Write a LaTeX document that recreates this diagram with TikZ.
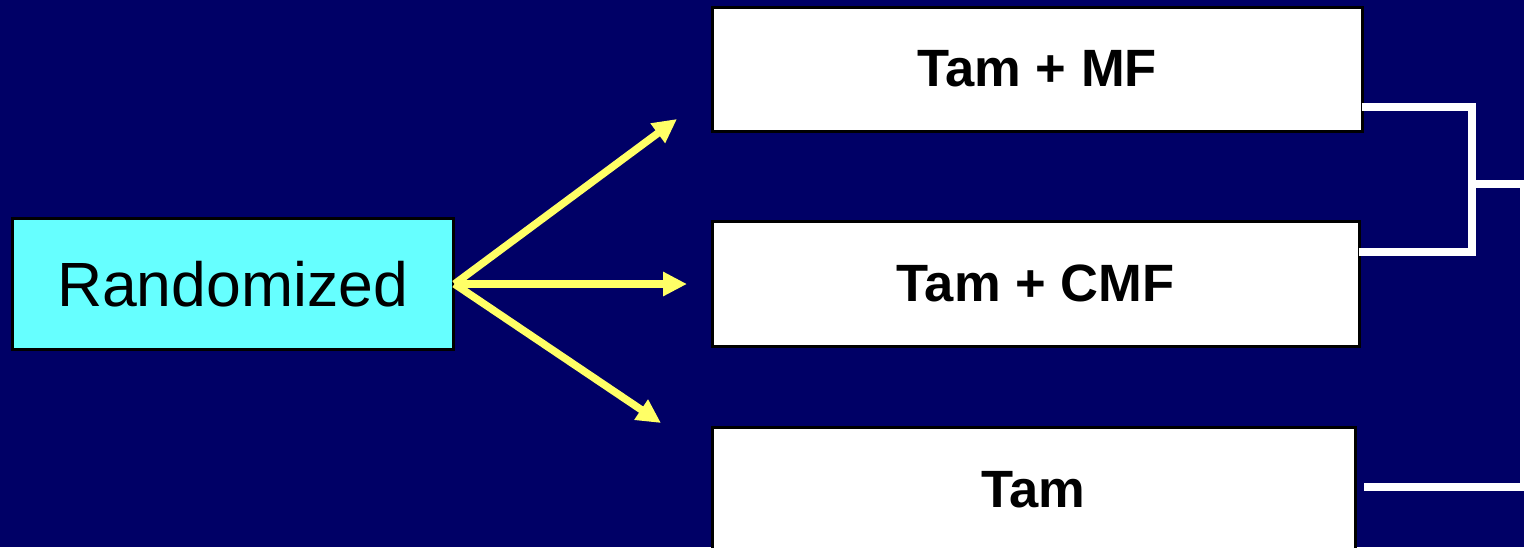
\documentclass[tikz,border=0pt]{standalone}
\usepackage{fontspec}
\setmainfont{Liberation Sans}
\usetikzlibrary{arrows.meta}
\definecolor{bgnavy}{HTML}{000066}
\definecolor{boxcyan}{HTML}{66FFFF}
\definecolor{arryellow}{HTML}{FFFF66}
\begin{document}
\begin{tikzpicture}[x=1pt,y=-1pt,
  armbox/.style={draw=black,line width=3pt,fill=white,inner sep=0pt,outer sep=0pt,
    font=\fontsize{52.5}{60}\selectfont\bfseries},
  randbox/.style={draw=black,line width=3pt,fill=boxcyan,inner sep=0pt,outer sep=0pt,
    font=\fontsize{62.5}{72}\selectfont},
  yarrow/.style={draw=arryellow,line width=7.5pt,
    -{Triangle[length=24pt,width=23pt]}},
  wline/.style={draw=white,line width=8pt,line join=miter,line cap=butt}]
\useasboundingbox (0,0) rectangle (1524,547);
\clip (0,0) rectangle (1524,547);
\fill[bgnavy] (0,0) rectangle (1524,547);

\node[randbox,minimum width=441pt,minimum height=131pt] (r) at (232.5,284) {Randomized};
\node[armbox,minimum width=650pt,minimum height=124pt] (b1) at (1037,69) {Tam + MF};
\node[armbox,minimum width=647pt,minimum height=125pt] (b2) at (1035.5,283.5) {Tam + CMF};
\node[armbox,minimum width=643pt,minimum height=126pt] (b3) at (1033.5,490) {Tam};

\coordinate (t1) at (677,119);
\coordinate (t2) at (687,284);
\coordinate (t3) at (661,423);
\draw[yarrow] ([xshift=1.5pt]r.east) -- (t1);
\draw[yarrow] ([xshift=1.5pt]r.east) -- (t2);
\draw[yarrow] ([xshift=1.5pt]r.east) -- (t3);

\coordinate (k1) at (1472,107);
\coordinate (k2) at (1472,252);
\coordinate (j) at (1472,184);
\coordinate (jr) at (1524,184);
\coordinate (jb) at (1524,487);
\draw[wline] (b1.east |- k1) -- (k1) -- (k2) -- (b2.east |- k2);
\draw[wline] (j) -- (jr) -- (jb) -- ([xshift=8.5pt]b3.east |- jb);
\end{tikzpicture}
\end{document}
